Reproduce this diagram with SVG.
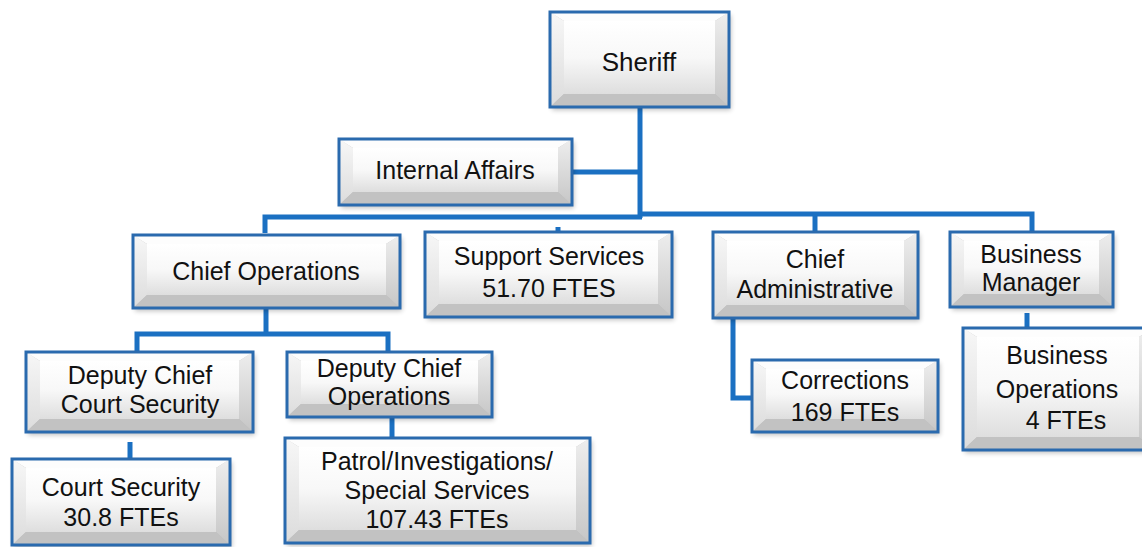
<svg xmlns="http://www.w3.org/2000/svg" width="1142" height="547" viewBox="0 0 1142 547">
  <defs>
    <linearGradient id="faceGrad" x1="0" y1="0" x2="0" y2="1">
      <stop offset="0" stop-color="#ffffff"/>
      <stop offset="0.5" stop-color="#f8f8f8"/>
      <stop offset="1" stop-color="#dedede"/>
    </linearGradient>
    <linearGradient id="leftGrad" x1="0" y1="0" x2="0" y2="1">
      <stop offset="0" stop-color="#f7f7f7"/>
      <stop offset="1" stop-color="#dcdcdc"/>
    </linearGradient>
    <linearGradient id="rightGrad" x1="0" y1="0" x2="0" y2="1">
      <stop offset="0" stop-color="#eeeeee"/>
      <stop offset="1" stop-color="#c6c6c6"/>
    </linearGradient>
    <filter id="shadow" x="-10%" y="-10%" width="130%" height="140%">
      <feGaussianBlur stdDeviation="2.5"/>
    </filter>
  </defs>
  <style>
    .sh { fill: #000; opacity: 0.25; filter: url(#shadow); }
    .t { fill: #fdfdfd; }
    .l { fill: url(#leftGrad); }
    .r { fill: url(#rightGrad); }
    .b { fill: #c2c2c2; }
    .f { fill: url(#faceGrad); }
    .bd { fill: none; stroke: #2a6aae; stroke-width: 3; }
    .lbl { font-family: "Liberation Sans", Arial, sans-serif; font-size: 25px; fill: #111; text-anchor: middle; }
    .conn path { fill: none; stroke: #1b70c2; stroke-width: 5; stroke-linejoin: miter; stroke-linecap: butt; }
  </style>

  <rect width="1142" height="547" fill="#ffffff"/>

  <!-- connectors -->
  <g id="connectors" class="conn">
    <path d="M640,107 V218"/>
    <path d="M572,172 H640"/>
    <path d="M265,233 V217 H642"/>
    <path d="M638,214 H1032 V232"/>
    <path d="M815,214 V232"/>
    <path d="M558,227 V238"/>
    <path d="M266,308 V334"/>
    <path d="M137,352 V334 H388 V352"/>
    <path d="M392,417 V438"/>
    <path d="M130,442 V460"/>
    <path d="M733,318 V398 H752"/>
    <path d="M1027,313 V328"/>
  </g>

  <!-- Sheriff -->
  <g id="sheriff">
    <rect class="sh" x="552" y="15" width="179" height="95"/>
    <polygon class="t" points="550,12 729,12 715,21 564,21"/>
    <polygon class="l" points="550,12 564,21 564,94 550,107"/>
    <polygon class="r" points="729,12 729,107 715,94 715,21"/>
    <polygon class="b" points="550,107 564,94 715,94 729,107"/>
    <rect class="f" x="564" y="21" width="151" height="73"/>
    <rect class="bd" x="550" y="12" width="179" height="95"/>
    <text class="lbl" x="639" y="71" style="font-size:26px">Sheriff</text>
  </g>

  <!-- Internal Affairs -->
  <g id="internal-affairs">
    <rect class="sh" x="341" y="142" width="233" height="66"/>
    <polygon class="t" points="339,139 572,139 558,148 353,148"/>
    <polygon class="l" points="339,139 353,148 353,192 339,205"/>
    <polygon class="r" points="572,139 572,205 558,192 558,148"/>
    <polygon class="b" points="339,205 353,192 558,192 572,205"/>
    <rect class="f" x="353" y="148" width="205" height="44"/>
    <rect class="bd" x="339" y="139" width="233" height="66"/>
    <text class="lbl" x="455" y="179">Internal Affairs</text>
  </g>

  <!-- Chief Operations -->
  <g id="chief-operations">
    <rect class="sh" x="135" y="238" width="267" height="73"/>
    <polygon class="t" points="133,235 400,235 386,244 147,244"/>
    <polygon class="l" points="133,235 147,244 147,295 133,308"/>
    <polygon class="r" points="400,235 400,308 386,295 386,244"/>
    <polygon class="b" points="133,308 147,295 386,295 400,308"/>
    <rect class="f" x="147" y="244" width="239" height="51"/>
    <rect class="bd" x="133" y="235" width="267" height="73"/>
    <text class="lbl" x="266" y="280">Chief Operations</text>
  </g>

  <!-- Support Services -->
  <g id="support-services">
    <rect class="sh" x="427" y="235" width="247" height="85"/>
    <polygon class="t" points="425,232 672,232 658,241 439,241"/>
    <polygon class="l" points="425,232 439,241 439,304 425,317"/>
    <polygon class="r" points="672,232 672,317 658,304 658,241"/>
    <polygon class="b" points="425,317 439,304 658,304 672,317"/>
    <rect class="f" x="439" y="241" width="219" height="63"/>
    <rect class="bd" x="425" y="232" width="247" height="85"/>
    <text class="lbl" x="549" y="265">Support Services</text>
    <text class="lbl" x="549" y="297">51.70 FTES</text>
  </g>

  <!-- Chief Administrative -->
  <g id="chief-administrative">
    <rect class="sh" x="715" y="235" width="205" height="86"/>
    <polygon class="t" points="713,232 918,232 904,241 727,241"/>
    <polygon class="l" points="713,232 727,241 727,305 713,318"/>
    <polygon class="r" points="918,232 918,318 904,305 904,241"/>
    <polygon class="b" points="713,318 727,305 904,305 918,318"/>
    <rect class="f" x="727" y="241" width="177" height="64"/>
    <rect class="bd" x="713" y="232" width="205" height="86"/>
    <text class="lbl" x="815" y="268">Chief</text>
    <text class="lbl" x="815" y="298">Administrative</text>
  </g>

  <!-- Business Manager -->
  <g id="business-manager">
    <rect class="sh" x="952" y="235" width="163" height="75"/>
    <polygon class="t" points="950,232 1113,232 1099,241 964,241"/>
    <polygon class="l" points="950,232 964,241 964,294 950,307"/>
    <polygon class="r" points="1113,232 1113,307 1099,294 1099,241"/>
    <polygon class="b" points="950,307 964,294 1099,294 1113,307"/>
    <rect class="f" x="964" y="241" width="135" height="53"/>
    <rect class="bd" x="950" y="232" width="163" height="75"/>
    <text class="lbl" x="1031" y="263">Business</text>
    <text class="lbl" x="1031" y="291">Manager</text>
  </g>

  <!-- Deputy Chief Court Security -->
  <g id="deputy-chief-court-security">
    <rect class="sh" x="28" y="355" width="227" height="80"/>
    <polygon class="t" points="26,352 253,352 239,361 40,361"/>
    <polygon class="l" points="26,352 40,361 40,419 26,432"/>
    <polygon class="r" points="253,352 253,432 239,419 239,361"/>
    <polygon class="b" points="26,432 40,419 239,419 253,432"/>
    <rect class="f" x="40" y="361" width="199" height="58"/>
    <rect class="bd" x="26" y="352" width="227" height="80"/>
    <text class="lbl" x="140" y="384">Deputy Chief</text>
    <text class="lbl" x="140" y="413">Court Security</text>
  </g>

  <!-- Deputy Chief Operations -->
  <g id="deputy-chief-operations">
    <rect class="sh" x="289" y="355" width="205" height="65"/>
    <polygon class="t" points="287,352 492,352 478,361 301,361"/>
    <polygon class="l" points="287,352 301,361 301,404 287,417"/>
    <polygon class="r" points="492,352 492,417 478,404 478,361"/>
    <polygon class="b" points="287,417 301,404 478,404 492,417"/>
    <rect class="f" x="301" y="361" width="177" height="43"/>
    <rect class="bd" x="287" y="352" width="205" height="65"/>
    <text class="lbl" x="389" y="377">Deputy Chief</text>
    <text class="lbl" x="389" y="405">Operations</text>
  </g>

  <!-- Court Security -->
  <g id="court-security">
    <rect class="sh" x="14" y="462" width="218" height="86"/>
    <polygon class="t" points="12,459 230,459 216,468 26,468"/>
    <polygon class="l" points="12,459 26,468 26,532 12,545"/>
    <polygon class="r" points="230,459 230,545 216,532 216,468"/>
    <polygon class="b" points="12,545 26,532 216,532 230,545"/>
    <rect class="f" x="26" y="468" width="190" height="64"/>
    <rect class="bd" x="12" y="459" width="218" height="86"/>
    <text class="lbl" x="121" y="496">Court Security</text>
    <text class="lbl" x="121" y="526">30.8 FTEs</text>
  </g>

  <!-- Patrol / Investigations / Special Services -->
  <g id="patrol-investigations">
    <rect class="sh" x="287" y="441" width="305" height="105"/>
    <polygon class="t" points="285,438 590,438 576,447 299,447"/>
    <polygon class="l" points="285,438 299,447 299,530 285,543"/>
    <polygon class="r" points="590,438 590,543 576,530 576,447"/>
    <polygon class="b" points="285,543 299,530 576,530 590,543"/>
    <rect class="f" x="299" y="447" width="277" height="83"/>
    <rect class="bd" x="285" y="438" width="305" height="105"/>
    <text class="lbl" x="437" y="470">Patrol/Investigations/</text>
    <text class="lbl" x="437" y="499">Special Services</text>
    <text class="lbl" x="437" y="528">107.43 FTEs</text>
  </g>

  <!-- Corrections -->
  <g id="corrections">
    <rect class="sh" x="754" y="363" width="186" height="72"/>
    <polygon class="t" points="752,360 938,360 924,369 766,369"/>
    <polygon class="l" points="752,360 766,369 766,419 752,432"/>
    <polygon class="r" points="938,360 938,432 924,419 924,369"/>
    <polygon class="b" points="752,432 766,419 924,419 938,432"/>
    <rect class="f" x="766" y="369" width="158" height="50"/>
    <rect class="bd" x="752" y="360" width="186" height="72"/>
    <text class="lbl" x="845" y="389">Corrections</text>
    <text class="lbl" x="845" y="421">169 FTEs</text>
  </g>

  <!-- Business Operations -->
  <g id="business-operations">
    <rect class="sh" x="965" y="331" width="190" height="122"/>
    <polygon class="t" points="963,328 1153,328 1139,337 977,337"/>
    <polygon class="l" points="963,328 977,337 977,437 963,450"/>
    <polygon class="r" points="1153,328 1153,450 1139,437 1139,337"/>
    <polygon class="b" points="963,450 977,437 1139,437 1153,450"/>
    <rect class="f" x="977" y="337" width="162" height="100"/>
    <rect class="bd" x="963" y="328" width="190" height="122"/>
    <text class="lbl" x="1057" y="364">Business</text>
    <text class="lbl" x="1057" y="398">Operations</text>
    <text class="lbl" x="1066" y="429">4 FTEs</text>
  </g>
</svg>
